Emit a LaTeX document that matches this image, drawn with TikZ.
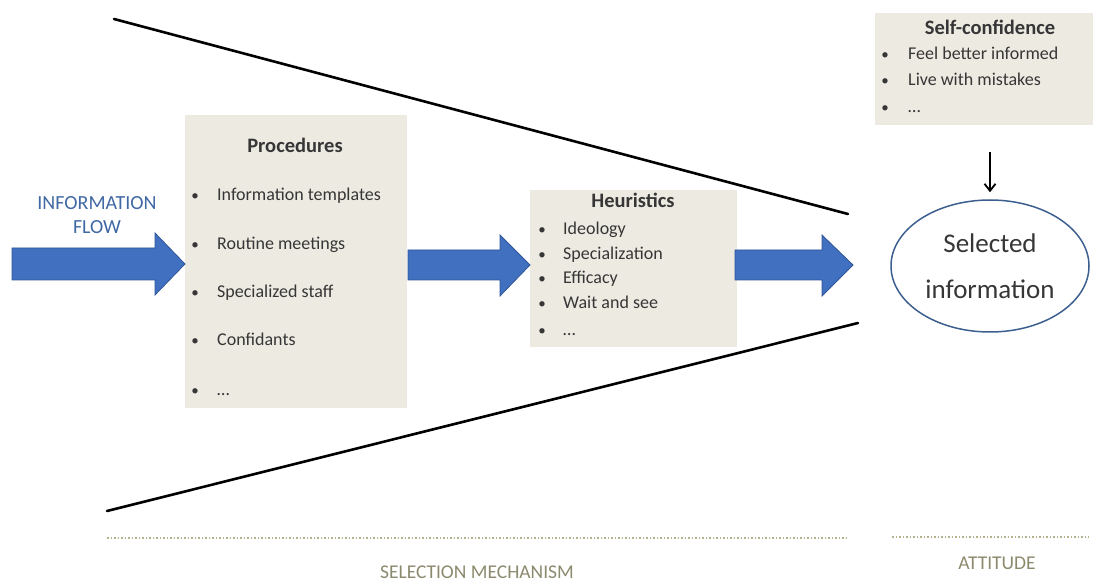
\documentclass[tikz,border=0pt]{standalone}
\usepackage{fontspec}
\setmainfont{Carlito}
\usetikzlibrary{arrows.meta,shapes.geometric}
\definecolor{boxfill}{HTML}{ECEAE1}
\definecolor{boxtext}{HTML}{363636}
\definecolor{flowblue}{HTML}{4170C0}
\definecolor{flowedge}{HTML}{2F5597}
\definecolor{labelblue}{HTML}{4068A4}
\definecolor{olivetext}{HTML}{8C8A6E}
\definecolor{dotcol}{HTML}{B4B28E}
\definecolor{ellblue}{HTML}{3D5F8F}
\begin{document}
\begin{tikzpicture}[x=1pt,y=-1pt,
  panel/.style={fill=boxfill,draw=none,inner sep=0,anchor=north west},
  item/.style={anchor=mid west,text=boxtext,font=\fontsize{18}{21}\selectfont,inner sep=0},
  bul/.style={anchor=mid,text=boxtext,font=\fontsize{15}{18}\selectfont,inner sep=0},
  ttl/.style={anchor=mid,text=boxtext,font=\fontsize{20.5}{24}\selectfont\bfseries,inner sep=0},
  funnel/.style={line width=2.6pt,black,line cap=round},
  blockarrow/.style={fill=flowblue,draw=flowedge,line width=0.8pt,line join=miter},
  sepline/.style={dotcol,line width=1.8pt,dash pattern=on 1.5pt off 2pt},
  caption/.style={text=olivetext,font=\fontsize{19.5}{22}\selectfont,inner sep=0,anchor=mid},
  downarrow/.style={-{Straight Barb[length=7pt,width=11pt]},line width=1.8pt,black}]
\useasboundingbox (0,0) rectangle (1096,585);

% funnel
\draw[funnel] (114,19) -- (848,214);
\draw[funnel] (107,511) -- (858,323);

% boxes
\node[panel,minimum width=222pt,minimum height=293pt] (proc) at (185,115) {};
\node[panel,minimum width=207pt,minimum height=157pt] (heur) at (530,190) {};
\node[panel,minimum width=218pt,minimum height=112pt] (sc) at (875,13) {};

% procedures
\node[ttl] (proct) at (295,150) {Procedures};
\foreach \y/\t [count=\i] in {198/Information templates,247/Routine meetings,295/Specialized staff,343/Confidants,393/\dots}{
  \node[bul] (pb\i) at (195,\y) {•};
  \node[item] (pi\i) at (217,\y) {\t};
}

% heuristics
\node[ttl] (heurt) at (633,205) {Heuristics};
\foreach \y/\t [count=\i] in {232/Ideology,257/Specialization,281/Efficacy,306/Wait and see,333/\dots}{
  \node[bul] (hb\i) at (542,\y) {•};
  \node[item] (hi\i) at (563,\y) {\t};
}

% self-confidence
\node[ttl] (sct) at (990,32) {Self-confidence};
\foreach \y/\t [count=\i] in {57/Feel better informed,83/Live with mistakes,110/\dots}{
  \node[bul] (sb\i) at (885,\y) {•};
  \node[item] (si\i) at (908,\y) {\t};
}

% selected information
\node[ellipse,draw=ellblue,line width=1.5pt,minimum width=198pt,minimum height=132pt,
      inner sep=0,align=center,text=boxtext,font=\fontsize{27}{46}\selectfont] (sel) at (990,266) {Selected\\information};
\draw[downarrow] ([yshift=-27pt]sel.north |- sc.south) -- ([yshift=7pt]sel.north);

% information flow
\node[align=center,text=labelblue,font=\fontsize{20}{24}\selectfont,inner sep=0] (flow) at (97,215) {INFORMATION\\FLOW};

% block arrows
\draw[blockarrow] (12,248) -- (155,248) -- (155,233) -- (185,264) -- (155,295) -- (155,280) -- (12,280) -- cycle;
\draw[blockarrow] (408,250) -- (500,250) -- (500,235) -- (530,265) -- (500,296) -- (500,280) -- (408,280) -- cycle;
\draw[blockarrow] (735,250) -- (822,250) -- (822,235) -- (853,265) -- (822,296) -- (822,280) -- (735,280) -- cycle;

% bottom separators and captions
\draw[sepline] (107,538) -- (848,538);
\draw[sepline] (892,537) -- (1089,537);
\node[caption] (selmech) at (477,576) {SELECTION MECHANISM};
\node[caption] (att) at (997,567) {ATTITUDE};
\end{tikzpicture}
\end{document}
